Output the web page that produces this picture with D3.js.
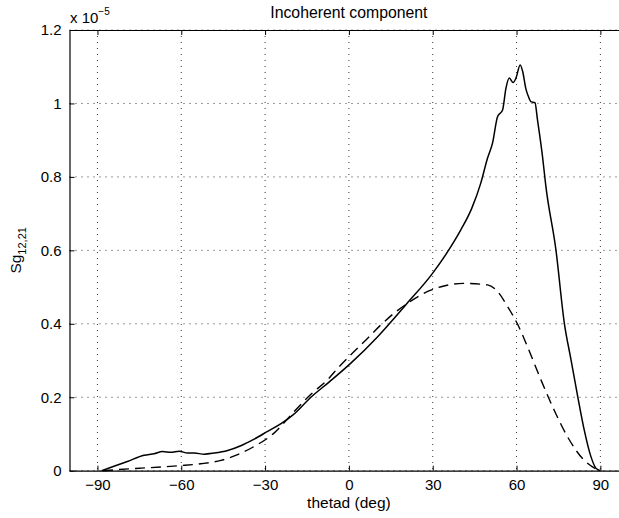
<!DOCTYPE html>
<html>
<head>
<meta charset="utf-8">
<script src="https://cdn.jsdelivr.net/npm/d3@7"></script>
<style>
  html, body { margin: 0; padding: 0; background: #fff; }
  svg { display: block; font-family: "Liberation Sans", Arial, Helvetica, sans-serif; }
</style>
</head>
<body>
<svg id="chart" width="619" height="518"></svg>
<script>
// ---- data (values in units of 1e-5) ----
const title = "Incoherent component";
const xLabel = "thetad (deg)";
const xTicks = [-90, -60, -30, 0, 30, 60, 90];
const yTicks = [0, 0.2, 0.4, 0.6, 0.8, 1, 1.2];
const yTickLabels = ["0", "0.2", "0.4", "0.6", "0.8", "1", "1.2"];

const solidTheta = [-88.5, -84.1, -79.3, -73.3, -69.7, -66.7, -63.7, -60.8, -57.7, -55.3, -51.8, -48.2, -43.4, -38.7, -33.9, -29.1, -24.3, -20, -13.6, -7, 0.7, 10.3, 20.4, 30, 36.5, 40, 44, 47.2, 49.6, 51.4, 53.2, 55, 56.2, 57.4, 58.8, 59.8, 61.3, 62.2, 63.3, 64.5, 65.1, 66.6, 67.5, 69.3, 70.5, 74.1, 77.1, 79.5, 81.9, 84.2, 86.6, 88.4, 90];
const solidValues = [0, 0.012, 0.025, 0.042, 0.046, 0.052, 0.050, 0.053, 0.048, 0.048, 0.045, 0.048, 0.055, 0.068, 0.086, 0.107, 0.128, 0.152, 0.2, 0.242, 0.293, 0.365, 0.452, 0.538, 0.61, 0.655, 0.715, 0.783, 0.851, 0.892, 0.964, 0.982, 1.041, 1.069, 1.057, 1.069, 1.105, 1.087, 1.041, 1.014, 1.005, 1.002, 0.955, 0.855, 0.774, 0.601, 0.402, 0.302, 0.202, 0.112, 0.039, 0.007, 0];

const dashedTheta = [-88, -82.8, -74.4, -67.3, -60.1, -53, -45.8, -39.8, -33.9, -26.7, -20, -13.6, -7.6, -3.4, 0.7, 6.1, 10.9, 16.2, 21, 28.2, 34, 41, 49.6, 53.2, 56.8, 60.3, 63.9, 68.7, 73.4, 78.2, 84, 89, 90];
const dashedValues = [0, 0.003, 0.007, 0.01, 0.014, 0.019, 0.028, 0.044, 0.066, 0.103, 0.158, 0.208, 0.248, 0.284, 0.316, 0.356, 0.393, 0.429, 0.456, 0.488, 0.503, 0.51, 0.506, 0.488, 0.447, 0.40, 0.338, 0.248, 0.166, 0.093, 0.03, 0.003, 0];

// ---- layout ----
const svg = d3.select("#chart");
const mLeft = 69.5, mRight = 628.3, mTop = 30, mBottom = 470.7;
const x = d3.scaleLinear().domain([-100, 100]).range([mLeft, mRight]);
const y = d3.scaleLinear().domain([0, 1.2]).range([mBottom, mTop]);

// grid
const grid = svg.append("g").attr("stroke", "#000").attr("stroke-width", 0.8)
  .attr("stroke-dasharray", "1,5").attr("fill", "none");
xTicks.forEach(t => grid.append("line").attr("x1", x(t)).attr("x2", x(t)).attr("y1", mTop).attr("y2", mBottom));
yTicks.forEach(t => grid.append("line").attr("x1", mLeft).attr("x2", mRight).attr("y1", y(t)).attr("y2", y(t)));

// axes (Matlab box style, ticks inward)
const fmtX = d => d < 0 ? "\u2212" + Math.abs(d) : String(d);
const xAxisB = d3.axisBottom(x).tickValues(xTicks).tickSizeInner(-5).tickSizeOuter(0).tickPadding(9).tickFormat(fmtX);
const xAxisT = d3.axisTop(x).tickValues(xTicks).tickSizeInner(-5).tickSizeOuter(0).tickFormat("");
const yAxisL = d3.axisLeft(y).tickValues(yTicks).tickSizeInner(-5).tickSizeOuter(0).tickPadding(8).tickFormat((d, i) => yTickLabels[i]);
const yAxisR = d3.axisRight(y).tickValues(yTicks).tickSizeInner(-5).tickSizeOuter(0).tickFormat("");

function style(g) {
  g.selectAll("path").attr("stroke", "#000").attr("stroke-width", 1.2);
  g.selectAll("line").attr("stroke", "#000").attr("stroke-width", 1);
  g.selectAll("text").attr("font-size", 15).attr("fill", "#000")
    .attr("font-family", "'Liberation Sans', Arial, Helvetica, sans-serif");
}
svg.append("g").attr("transform", `translate(0,${mBottom})`).call(xAxisB).call(style);
svg.append("g").attr("transform", `translate(0,${mTop})`).call(xAxisT).call(style);
svg.append("g").attr("transform", `translate(${mLeft},0)`).call(yAxisL).call(style);
svg.append("g").attr("transform", `translate(${mRight},0)`).call(yAxisR).call(style);

// lines
const line = d3.line().x(d => x(d[0])).y(d => y(d[1])).curve(d3.curveMonotoneX);
svg.append("path").datum(dashedTheta.map((t, i) => [t, dashedValues[i]]))
  .attr("d", line).attr("fill", "none").attr("stroke", "#000").attr("stroke-width", 1.4)
  .attr("stroke-dasharray", "10,6");
svg.append("path").datum(solidTheta.map((t, i) => [t, solidValues[i]]))
  .attr("d", line).attr("fill", "none").attr("stroke", "#000").attr("stroke-width", 1.5);

// title
svg.append("text").attr("x", x(0)).attr("y", 18).attr("text-anchor", "middle")
  .attr("font-size", 15.8).text(title);

// x label
svg.append("text").attr("x", x(0)).attr("y", 508).attr("text-anchor", "middle")
  .attr("font-size", 15.5).text(xLabel);

// y label with subscript
const yl = svg.append("text").attr("transform", `translate(21,${(mTop + mBottom) / 2}) rotate(-90)`)
  .attr("text-anchor", "middle").attr("font-size", 15.5);
yl.append("tspan").text("Sg");
yl.append("tspan").attr("dy", 5).attr("font-size", 11).text("12,21");

// exponent
const ex = svg.append("text").attr("x", 70).attr("y", 23).attr("font-size", 15);
ex.append("tspan").text("x 10");
ex.append("tspan").attr("dy", -8).attr("font-size", 10).text("\u22125");
</script>
</body>
</html>
